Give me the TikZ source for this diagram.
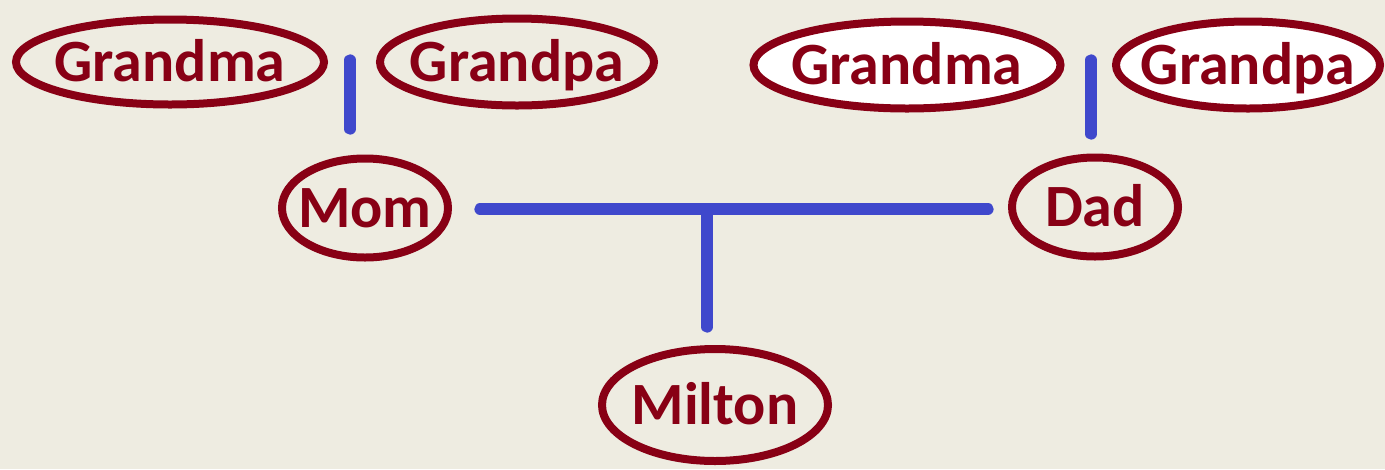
\documentclass[tikz,border=0pt]{standalone}
\usepackage{fontspec}
\setmainfont{Carlito}
\usetikzlibrary{shapes.geometric}
\definecolor{bgc}{HTML}{EEECE1}
\definecolor{dred}{HTML}{880015}
\definecolor{lblue}{HTML}{3F48CC}
\newcommand{\ctext}[1]{\makebox[0pt]{\smash{\raisebox{-0.32em}{#1}}}}
\tikzset{
  person/.style={ellipse, draw=dred, line width=6pt, inner sep=0pt, text=dred,
    font=\fontsize{45}{50}\selectfont\bfseries, fill=bgc},
  whiteperson/.style={person, fill=white},
  link/.style={draw=lblue, line width=8.5pt, line cap=round},
}
\begin{document}
\begin{tikzpicture}[x=0.75pt,y=-0.75pt]
\fill[bgc] (0,0) rectangle (1385,469);
\useasboundingbox (0,0) rectangle (1385,469);
\node[person, minimum width=231pt, minimum height=63.75pt] (lgm) at (170,62) {\ctext{Grandma}};
\node[person, minimum width=205.5pt, minimum height=65.25pt] (lgp) at (517,62) {\ctext{Grandpa}};
\node[person, minimum width=124.5pt, minimum height=74.25pt] (mom) at (365,208) {\ctext{Mom}};
\node[person, minimum width=124.5pt, minimum height=74.25pt] (dad) at (1095,207) {\ctext{Dad}};
\node[person, minimum width=169.5pt, minimum height=84pt] (milton) at (715,405) {\ctext{Milton}};
\node[whiteperson, minimum width=230.25pt, minimum height=65.25pt] (rgm) at (907,65) {\ctext{Grandma}};
\node[whiteperson, minimum width=198pt, minimum height=65.25pt] (rgp) at (1248,65) {\ctext{Grandpa}};
\coordinate (lt) at (350,60);
\coordinate (lb) at (350,129);
\coordinate (rt) at (1091,60);
\coordinate (rb) at (1091,134);
\coordinate (hl) at (480,209);
\coordinate (hr) at (988,209);
\coordinate (hm) at (707,209);
\coordinate (vb) at (707,327);
\draw[link] (lt) -- (lb);
\draw[link] (rt) -- (rb);
\draw[link] (hl) -- (hr);
\draw[link] (hm) -- (vb);
\end{tikzpicture}
\end{document}
